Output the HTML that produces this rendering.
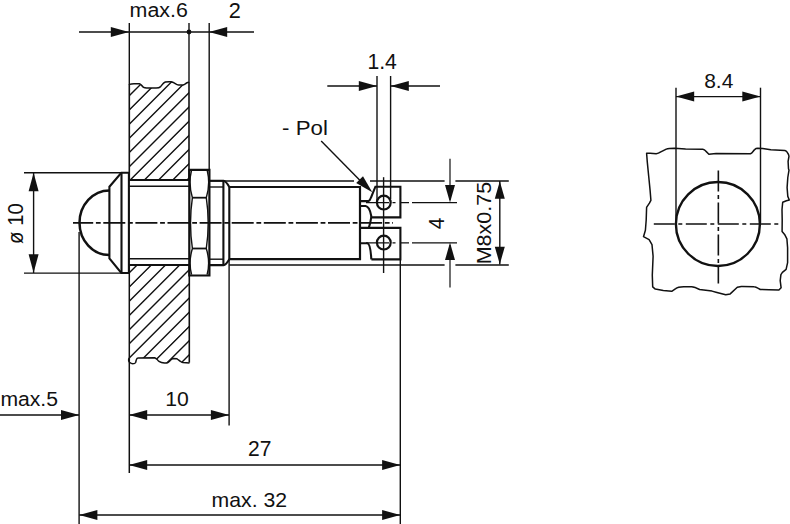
<!DOCTYPE html>
<html><head><meta charset="utf-8"><style>
html,body{margin:0;padding:0;background:#fff;width:790px;height:524px;overflow:hidden}
svg{display:block}
text{font-family:"Liberation Sans",sans-serif;fill:#111;stroke:none}
</style></head><body>
<svg width="790" height="524" viewBox="0 0 790 524" stroke="#111" stroke-linecap="butt" fill="none">
<line x1="79" y1="32" x2="129" y2="32" stroke-width="1.4" />
<polygon points="129.00,32.00 110.80,27.00 110.80,37.00" fill="#111" stroke="none"/>
<line x1="129" y1="32" x2="209" y2="32" stroke-width="1.4" />
<circle cx="189" cy="32" r="2.4" fill="#111" stroke="none"/>
<line x1="209" y1="32" x2="254" y2="32" stroke-width="1.4" />
<polygon points="209.00,32.00 227.20,27.00 227.20,37.00" fill="#111" stroke="none"/>
<line x1="129.3" y1="23" x2="129.3" y2="84.5" stroke-width="1.4" />
<line x1="189" y1="23" x2="189" y2="83" stroke-width="1.4" />
<line x1="209.2" y1="23" x2="209.2" y2="170" stroke-width="1.4" />
<defs><clipPath id="cu"><path d="M129.5,84.4 C131,83.8 133,83.7 134,83.7 L139.4,83.7 C140.5,84 141,84.5 141.5,85.2 C142.5,87 144,88.1 146.5,88.1 L156.1,88.1 C158.5,88 159.8,87.4 160.6,86.6 C161.8,85.3 163,83 165.3,82 C166.5,81.6 169,81.6 171.1,81.7 C172.5,82 173.5,82.5 174.5,83.1 C176,84 177,84.8 178.5,84.9 L182.8,85 C184.5,84.5 185.5,83.6 186.5,83 C187.3,82.6 188,82.4 189,82.3 L189,180 L129,180 Z"/></clipPath><clipPath id="cl"><path d="M129.3,357.9 C128.3,359 128.3,361.5 129.8,362.5 C130.8,363.4 131.8,363.8 132.7,363.8 C134,363.8 135.3,363.2 135.6,362.5 C136,361.5 136,360.3 136.4,359.6 C136.8,358.5 137.3,357.9 138.1,357.9 L154.4,357.7 C155.5,358 156.2,358.6 156.9,359.2 C157.6,360 158.2,360.8 159,361.3 C160.5,362.4 162.5,362.9 164.4,362.9 L166.9,362.9 C168.5,362.5 170,360.5 171.1,359.6 C171.8,359 172.6,358.4 173.6,358.4 L177,358.8 C178.2,359.5 179.2,360.5 180.3,361.3 C181,361.9 181.8,362.4 182.8,362.5 L189.5,362.9 L189.5,265 L129,265 Z"/></clipPath></defs>
<path d="M-46.0,200 L154.0,0 M-31.80000000000001,200 L168.2,0 M-17.599999999999994,200 L182.4,0 M-3.4000000000000057,200 L196.6,0 M10.800000000000011,200 L210.8,0 M25.0,200 L225.0,0 M39.19999999999999,200 L239.2,0 M53.400000000000006,200 L253.4,0 M67.60000000000002,200 L267.6,0 M81.80000000000001,200 L281.8,0 M96.0,200 L296.0,0 M110.19999999999999,200 L310.2,0 M124.39999999999998,200 L324.4,0 M138.60000000000002,200 L338.6,0 M152.8,200 L352.8,0 M167.0,200 L367.0,0 M181.2,200 L381.2,0 M195.39999999999998,200 L395.4,0 M209.60000000000002,200 L409.6,0 M223.79999999999995,200 L423.79999999999995,0 M238.0,200 L438.0,0 M252.2,200 L452.2,0 M266.4,200 L466.4,0 M280.6,200 L480.6,0 M294.8,200 L494.8,0 M309.0,200 L509.0,0 M323.20000000000005,200 L523.2,0 M337.4,200 L537.4,0 M351.5999999999999,200 L551.5999999999999,0 M365.79999999999995,200 L565.8,0 M380.0,200 L580.0,0 M394.20000000000005,200 L594.2,0 M408.4,200 L608.4,0 M422.5999999999999,200 L622.5999999999999,0 M436.79999999999995,200 L636.8,0 M451.0,200 L651.0,0 M465.20000000000005,200 L665.2,0 M479.4,200 L679.4,0 M493.5999999999999,200 L693.5999999999999,0 M507.79999999999995,200 L707.8,0 M522.0,200 L722.0,0 M536.2,200 L736.2,0 M550.4,200 L750.4,0 M564.6,200 L764.6,0 M578.8,200 L778.8,0" stroke-width="1.4" clip-path="url(#cu)" fill="none"/>
<path d="M-196.7,400 L-46.69999999999999,250 M-182.49999999999997,400 L-32.49999999999997,250 M-168.29999999999998,400 L-18.299999999999983,250 M-154.09999999999997,400 L-4.099999999999966,250 M-139.89999999999998,400 L10.100000000000023,250 M-125.69999999999999,400 L24.30000000000001,250 M-111.5,400 L38.5,250 M-97.29999999999995,400 L52.700000000000045,250 M-83.09999999999997,400 L66.90000000000003,250 M-68.89999999999998,400 L81.10000000000002,250 M-54.69999999999999,400 L95.30000000000001,250 M-40.5,400 L109.5,250 M-26.299999999999955,400 L123.70000000000005,250 M-12.099999999999966,400 L137.90000000000003,250 M2.1000000000000227,400 L152.10000000000002,250 M16.30000000000001,400 L166.3,250 M30.5,400 L180.5,250 M44.69999999999999,400 L194.7,250 M58.89999999999998,400 L208.89999999999998,250 M73.10000000000002,400 L223.10000000000002,250 M87.30000000000001,400 L237.3,250 M101.5,400 L251.5,250 M115.70000000000005,400 L265.70000000000005,250 M129.89999999999998,400 L279.9,250 M144.10000000000002,400 L294.1,250 M158.29999999999995,400 L308.29999999999995,250 M172.5,400 L322.5,250 M186.70000000000005,400 L336.70000000000005,250 M200.89999999999998,400 L350.9,250 M215.10000000000002,400 L365.1,250 M229.29999999999995,400 L379.29999999999995,250 M243.5,400 L393.5,250 M257.70000000000005,400 L407.70000000000005,250 M271.9,400 L421.9,250 M286.1,400 L436.1,250 M300.29999999999995,400 L450.29999999999995,250 M314.5,400 L464.5,250 M328.70000000000005,400 L478.70000000000005,250 M342.9,400 L492.9,250 M357.0999999999999,400 L507.0999999999999,250 M371.29999999999995,400 L521.3,250 M385.5,400 L535.5,250 M399.70000000000005,400 L549.7,250 M413.9,400 L563.9,250 M428.0999999999999,400 L578.0999999999999,250" stroke-width="1.4" clip-path="url(#cl)" fill="none"/>
<path d="M129.5,84.4 C131,83.8 133,83.7 134,83.7 L139.4,83.7 C140.5,84 141,84.5 141.5,85.2 C142.5,87 144,88.1 146.5,88.1 L156.1,88.1 C158.5,88 159.8,87.4 160.6,86.6 C161.8,85.3 163,83 165.3,82 C166.5,81.6 169,81.6 171.1,81.7 C172.5,82 173.5,82.5 174.5,83.1 C176,84 177,84.8 178.5,84.9 L182.8,85 C184.5,84.5 185.5,83.6 186.5,83 C187.3,82.6 188,82.4 189,82.3" stroke-width="1.5" fill="none" />
<path d="M129.3,357.9 C128.3,359 128.3,361.5 129.8,362.5 C130.8,363.4 131.8,363.8 132.7,363.8 C134,363.8 135.3,363.2 135.6,362.5 C136,361.5 136,360.3 136.4,359.6 C136.8,358.5 137.3,357.9 138.1,357.9 L154.4,357.7 C155.5,358 156.2,358.6 156.9,359.2 C157.6,360 158.2,360.8 159,361.3 C160.5,362.4 162.5,362.9 164.4,362.9 L166.9,362.9 C168.5,362.5 170,360.5 171.1,359.6 C171.8,359 172.6,358.4 173.6,358.4 L177,358.8 C178.2,359.5 179.2,360.5 180.3,361.3 C181,361.9 181.8,362.4 182.8,362.5 L189.5,362.9" stroke-width="1.5" fill="none" />
<line x1="129.3" y1="84" x2="129.3" y2="180" stroke-width="1.6" />
<line x1="189" y1="82.6" x2="189" y2="180" stroke-width="1.6" />
<line x1="129.3" y1="265" x2="129.3" y2="473" stroke-width="1.5" />
<line x1="189.3" y1="265" x2="189.3" y2="362.6" stroke-width="1.6" />
<line x1="129" y1="180" x2="189.2" y2="180" stroke-width="2.1" />
<line x1="129" y1="186.3" x2="189.2" y2="186.3" stroke-width="1.6" />
<line x1="129" y1="258.8" x2="189.2" y2="258.8" stroke-width="1.6" />
<line x1="129" y1="265" x2="189.2" y2="265" stroke-width="2.1" />
<line x1="24" y1="172.7" x2="121" y2="172.7" stroke-width="1.4" />
<line x1="24" y1="273.1" x2="121" y2="273.1" stroke-width="1.4" />
<path d="M109.4,186.7 L121.3,172.7 H128.9 V273 H121.3 L109.4,258.4 Z" stroke-width="2.1" fill="none" />
<line x1="121.5" y1="172.7" x2="121.5" y2="273" stroke-width="2.1" />
<path d="M109.4,190.4 A29.9,32.35 0 0 0 109.4,255.1" stroke-width="2.5" fill="none" />
<line x1="79.1" y1="232" x2="79.1" y2="524" stroke-width="1.4" />
<line x1="33.6" y1="172" x2="33.6" y2="273" stroke-width="1.4" />
<polygon points="33.60,172.70 28.60,191.20 38.60,191.20" fill="#111" stroke="none"/>
<polygon points="33.60,272.80 28.60,254.30 38.60,254.30" fill="#111" stroke="none"/>
<path d="M189.3,169.8 H209.4 V275.5 H189.3 Z" stroke-width="2.2" fill="none" />
<line x1="192.4" y1="197.7" x2="206.3" y2="197.7" stroke-width="1.8" />
<line x1="192.4" y1="248.5" x2="206.3" y2="248.5" stroke-width="1.8" />
<path d="M191.4,170.8 Q188.2,184 192.4,197.7 Q188.6,223 192.4,248.5 Q188.2,262 191.6,274.6 M207.3,170.8 Q210.5,184 206.3,197.7 Q210.1,223 206.3,248.5 Q210.5,262 207.1,274.6" stroke-width="1.4" fill="none" />
<path d="M209.4,180.7 H223.5 Q226,181 229.3,187" stroke-width="2.1" fill="none" />
<path d="M209.4,265.1 H223.5 Q226,264.9 229.3,259.2" stroke-width="2.1" fill="none" />
<line x1="209.4" y1="187" x2="223.4" y2="187" stroke-width="1.4" />
<line x1="209.4" y1="259.2" x2="223.4" y2="259.2" stroke-width="1.4" />
<line x1="223.4" y1="180.5" x2="223.4" y2="265" stroke-width="2.1" />
<line x1="229.3" y1="187" x2="229.3" y2="259.2" stroke-width="2.1" />
<line x1="229.1" y1="258.8" x2="229.1" y2="425.5" stroke-width="1.4" />
<path d="M229.3,187 H360 V259.2 H229.3" stroke-width="2.2" fill="none" />
<path d="M360,201.1 H368.5 Q370,200.5 371,197.5 L375.4,186.7 H400.4 V217.4 H371.2" stroke-width="2.1" fill="none" />
<path d="M360,206 H365.6 Q369.5,206.5 371.2,215.7 L371.2,217.4 Q370.5,223 368.9,227.5" stroke-width="2.1" fill="none" />
<path d="M360,227.9 H400.4 V259.4 H371.4" stroke-width="2.1" fill="none" />
<path d="M360,243.3 H367.5 Q370.5,244 371.3,259.4" stroke-width="2.1" fill="none" />
<circle cx="383.8" cy="202.6" r="6.9" stroke-width="2.2" fill="none"/>
<circle cx="383.8" cy="242.6" r="6.9" stroke-width="2.2" fill="none"/>
<line x1="383.6" y1="177.2" x2="383.6" y2="273" stroke-width="1.4" />
<line x1="377" y1="76" x2="377" y2="200" stroke-width="1.4" />
<line x1="390.6" y1="76" x2="390.6" y2="199" stroke-width="1.4" />
<line x1="73" y1="222.85" x2="393" y2="222.85" stroke-width="1.7" stroke-dasharray="22 2.7 4.8 2.6" stroke-dashoffset="1.8"/>
<path d="M366,202.6 H389 M392.5,202.6 H395.5 M401,202.6 H409 M412,202.6 H457" stroke-width="1.3" fill="none" />
<path d="M366,242.8 H389 M392.5,242.8 H395.5 M401,242.8 H409 M412,242.8 H457" stroke-width="1.3" fill="none" />
<line x1="327.3" y1="86" x2="377" y2="86" stroke-width="1.4" />
<polygon points="377.00,86.00 358.80,81.00 358.80,91.00" fill="#111" stroke="none"/>
<line x1="390.6" y1="86" x2="440" y2="86" stroke-width="1.4" />
<polygon points="390.60,86.00 408.80,81.00 408.80,91.00" fill="#111" stroke="none"/>
<line x1="321.2" y1="141.1" x2="365" y2="185.5" stroke-width="1.4" />
<polygon points="372.3,192.3 356.19,182.95 362.98,176.17" fill="#111" stroke="none"/>
<line x1="209.4" y1="180.9" x2="354" y2="180.9" stroke-width="1.5" />
<line x1="370" y1="180.9" x2="444.6" y2="180.9" stroke-width="1.5" />
<line x1="455.4" y1="180.9" x2="508.8" y2="180.9" stroke-width="1.5" />
<line x1="455.4" y1="265" x2="508.8" y2="265" stroke-width="1.5" />
<line x1="229.3" y1="265" x2="444.6" y2="265" stroke-width="1.5" />
<line x1="400.3" y1="259" x2="400.3" y2="524" stroke-width="1.4" />
<line x1="450" y1="158.7" x2="450" y2="200" stroke-width="1.2" />
<polygon points="450.00,202.40 445.00,184.90 455.00,184.90" fill="#111" stroke="none"/>
<line x1="450" y1="245" x2="450" y2="287.6" stroke-width="1.2" />
<polygon points="450.00,242.60 445.00,260.10 455.00,260.10" fill="#111" stroke="none"/>
<line x1="499.8" y1="181" x2="499.8" y2="264.5" stroke-width="1.4" />
<polygon points="499.80,181.20 494.80,198.70 504.80,198.70" fill="#111" stroke="none"/>
<polygon points="499.80,264.20 494.80,246.70 504.80,246.70" fill="#111" stroke="none"/>
<line x1="0" y1="415" x2="79" y2="415" stroke-width="1.4" />
<polygon points="79.20,415.00 61.00,410.00 61.00,420.00" fill="#111" stroke="none"/>
<line x1="129" y1="415" x2="229" y2="415" stroke-width="1.4" />
<polygon points="129.00,415.00 147.20,410.00 147.20,420.00" fill="#111" stroke="none"/>
<polygon points="229.10,415.00 210.90,410.00 210.90,420.00" fill="#111" stroke="none"/>
<line x1="129" y1="465" x2="400.3" y2="465" stroke-width="1.4" />
<polygon points="129.00,465.00 147.20,460.00 147.20,470.00" fill="#111" stroke="none"/>
<polygon points="400.30,465.00 382.10,460.00 382.10,470.00" fill="#111" stroke="none"/>
<line x1="79.2" y1="515" x2="400.3" y2="515" stroke-width="1.4" />
<polygon points="79.20,515.00 97.40,510.00 97.40,520.00" fill="#111" stroke="none"/>
<polygon points="400.30,515.00 382.10,510.00 382.10,520.00" fill="#111" stroke="none"/>
<line x1="676" y1="87.7" x2="676" y2="223" stroke-width="1.4" />
<line x1="760.5" y1="87.7" x2="760.5" y2="223" stroke-width="1.4" />
<line x1="676" y1="96.6" x2="760.5" y2="96.6" stroke-width="1.4" />
<polygon points="676.00,96.60 694.20,91.60 694.20,101.60" fill="#111" stroke="none"/>
<polygon points="760.50,96.60 742.30,91.60 742.30,101.60" fill="#111" stroke="none"/>
<path d="M646.6,153.2 L650.1,153.2 L656.2,153.7 C658.5,153.5 659.5,152.8 660.3,152.2 L666.3,149.1 C668,148.5 671,148.3 674.4,148.3 L685.6,148.9 L702.8,149.3 C704.5,149.6 705,150.2 705.8,151.1 L708.9,154.2 L716.1,153.4 L750.5,153.7 C752.5,153 753.5,150.5 754.6,149.6 C755.5,148.8 756.5,148.3 757.6,148.3 L762.7,148.6 L770.8,149.8 L784.9,150.6 C786.5,151 787,152 787.5,152.7 C788.5,154 789,155.5 789,156.2 L788.1,161.5 L788.5,168.7 L789,170.2 L787.8,177.5 L787.1,187.6 L787.8,196.4 L789.3,200 L786.4,200.7 L782.7,202.2 L782,209.5 L782.2,220 L782.1,231.4 L784.6,234.4 L786.9,238.9 L787.6,247.8 L787.6,262.7 L786.1,269.4 L782.4,272.4 L780.9,274.6 L780.2,280.6 L781.1,287.7 L778.9,290 L769.1,289.7 L760.3,289.5 C758,288 756,286.7 754.1,286.7 L742.6,286.4 C740,286.8 738.5,287 737.3,287.3 L730.2,293.9 L725.7,294.8 L716,292.2 L712,291.1 L699.6,289.5 C697,288 694,286.7 691.6,286.7 L683.7,286.7 C680,286.8 677,287.5 675.7,288.6 L671.7,291.3 L663.3,290.4 L655.3,289.1 L652.7,286.9 L652.3,275.2 L653.1,256.3 L652,244.7 L649.1,239.6 L643.5,236.7 L645.4,230.2 L646.2,220 L646.6,207.4 L649.4,203.2 L650.9,200.3 L650.1,190.4 L648.7,176.3 L647.3,162.1 Z" stroke-width="1.5" fill="none" stroke-linejoin="round"/>
<circle cx="717.9" cy="224.05" r="42" stroke-width="2.4" fill="none"/>
<line x1="653.8" y1="224" x2="779.3" y2="224" stroke-width="1.6" stroke-dasharray="21 3.5 4 3.5" stroke-dashoffset="0"/>
<line x1="718.35" y1="170.5" x2="718.35" y2="283.5" stroke-width="1.6" stroke-dasharray="21 3.5 4 3.5" stroke-dashoffset="0"/>
<g transform="translate(129.6,17.46) scale(1.0205,0.9613)"><text x="0" y="0" font-size="21">max.6</text></g>
<g transform="translate(228.86,17.96) scale(1.0358,1.0154)"><text x="0" y="0" font-size="21">2</text></g>
<g transform="translate(367.42,69.24) scale(1.008,1.04)"><text x="0" y="0" font-size="21">1.4</text></g>
<g transform="translate(282.09,134.76) scale(1.06,0.9613)"><text x="0" y="0" font-size="21">- Pol</text></g>
<g transform="translate(0.39,405.6) scale(1.0081,0.9949)"><text x="0" y="0" font-size="21">max.5</text></g>
<g transform="translate(165.16,405.5) scale(1.0084,1.005)"><text x="0" y="0" font-size="21">10</text></g>
<g transform="translate(248.1,455.5) scale(1.0024,1.0215)"><text x="0" y="0" font-size="21">27</text></g>
<g transform="translate(211.59,507.46) scale(1.0115,0.9748)"><text x="0" y="0" font-size="21">max. 32</text></g>
<g transform="translate(704.19,87.5) scale(0.9991,1.005)"><text x="0" y="0" font-size="21">8.4</text></g>
<g transform="translate(23.37,243.94) scale(1.0547,0.9689) rotate(-90)"><text x="0" y="0" font-size="21">ø 10</text></g>
<g transform="translate(443.8,229.27) scale(1.0179,0.9943) rotate(-90)"><text x="0" y="0" font-size="21">4</text></g>
<g transform="translate(490.96,264.29) scale(0.96,1.0234) rotate(-90)"><text x="0" y="0" font-size="21">M8x0.75</text></g>
</svg>
</body></html>
